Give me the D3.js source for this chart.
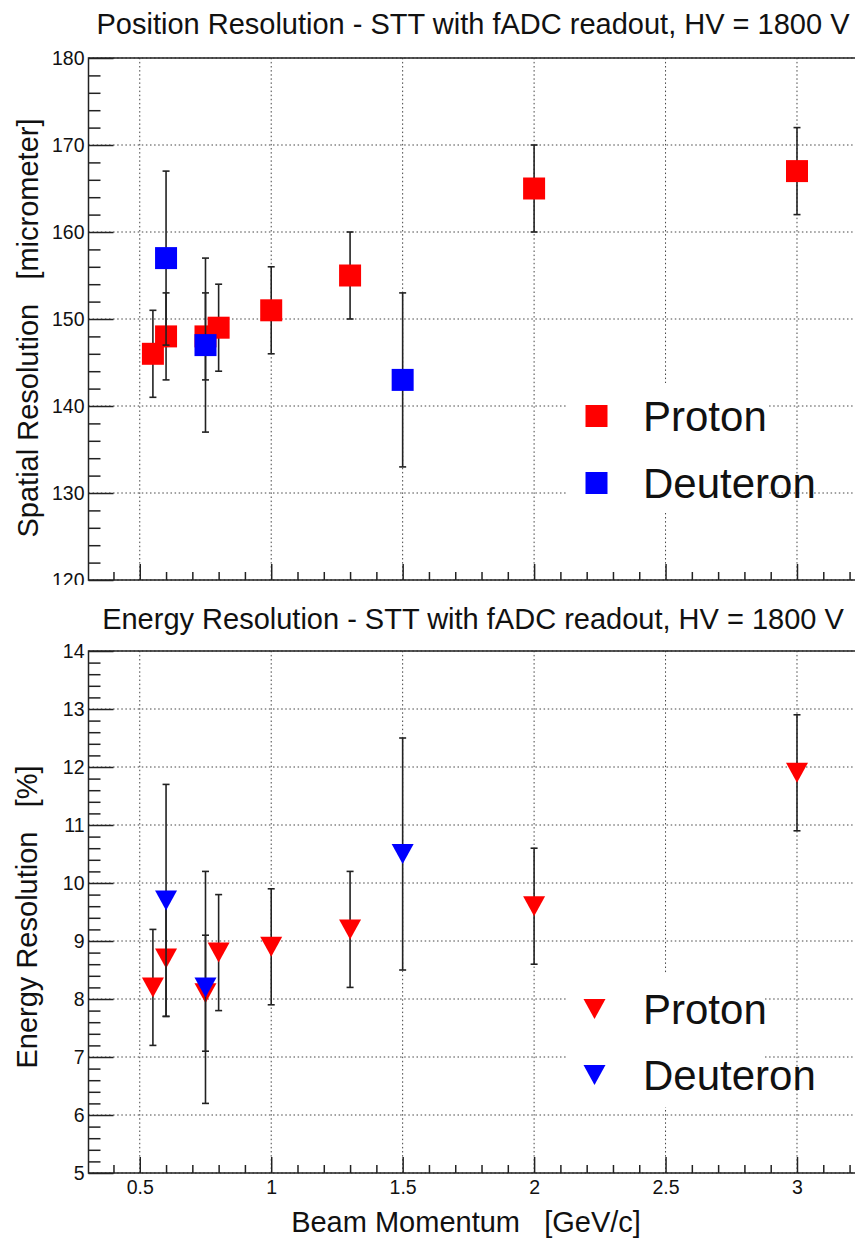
<!DOCTYPE html>
<html>
<head>
<meta charset="utf-8">
<script src="https://cdn.jsdelivr.net/npm/d3@7"></script>
<style>
  html, body { margin: 0; padding: 0; background: #fff; }
  svg { display: block; font-family: "Liberation Sans", Arial, Helvetica, sans-serif; }
  text { white-space: pre; }
</style>
</head>
<body>
<svg id="chart" width="855" height="1238"></svg>
<script>
// Beam momenta [GeV/c]
const protonMomentum   = [0.55, 0.6, 0.75, 0.8, 1.0, 1.3, 2.0, 3.0];
const deuteronMomentum = [0.6, 0.75, 1.5];

// Spatial resolution [micrometer]
const protonSpatial      = [146, 148, 148, 149, 151, 155, 165, 167];
const protonSpatialErr   = [5, 5, 5, 5, 5, 5, 5, 5];
const deuteronSpatial    = [157, 147, 143];
const deuteronSpatialErr = [10, 10, 10];

// Energy resolution [%]
const protonEnergy      = [8.2, 8.7, 8.1, 8.8, 8.9, 9.2, 9.6, 11.9];
const protonEnergyErr   = [1, 1, 1, 1, 1, 1, 1, 1];
const deuteronEnergy    = [9.7, 8.2, 10.5];
const deuteronEnergyErr = [2, 2, 2];

// Axis ticks
const xMajorTicks = [0.5, 1, 1.5, 2, 2.5, 3];
const xTickLabels = ["0.5", "1", "1.5", "2", "2.5", "3"];
const spatialTicks = [120, 130, 140, 150, 160, 170, 180];
const energyTicks  = [5, 6, 7, 8, 9, 10, 11, 12, 13, 14];

const seriesNames  = ["Proton", "Deuteron"];
const seriesColors = ["#ff0000", "#0000ff"];

const svg = d3.select("#chart");
const W = 855;

const x = d3.scaleLinear().domain([0.305, 3.245]).range([88.5, 861.4]);
const xMinor = d3.range(4, 33).map(v => v / 10).filter(v => !xMajorTicks.some(m => Math.abs(m - v) < 1e-9));

const FONT_TICK = 19.5, FONT_TITLE = 29, FONT_LEG = 42;
const INK = "#222";

function makePanel(opts) {
  const g = svg.append("g");
  if (opts.clip) {
    svg.append("clipPath").attr("id", opts.id + "-clip")
      .append("rect").attr("x", 0).attr("y", 0).attr("width", W).attr("height", opts.clip);
    g.attr("clip-path", `url(#${opts.id}-clip)`);
  }
  const y = opts.y;
  const [x0, x1] = x.range();
  const [yb, yt] = y.range();

  // title
  g.append("text").attr("x", 473).attr("y", opts.titleY)
    .attr("text-anchor", "middle").attr("font-size", FONT_TITLE).attr("fill", "#111")
    .text(opts.title);

  // grid
  const grid = g.append("g").attr("stroke", "#444").attr("stroke-width", 1)
    .attr("stroke-dasharray", "1.5,2.6").attr("fill", "none");
  xMajorTicks.forEach(v => grid.append("line")
    .attr("x1", x(v)).attr("x2", x(v)).attr("y1", yb).attr("y2", yt));
  opts.yTicks.forEach(v => grid.append("line")
    .attr("x1", x0).attr("x2", x1).attr("y1", y(v)).attr("y2", y(v)));

  // legend box (white, covers grid)
  const lg = opts.legend;
  g.append("rect").attr("x", lg.x).attr("y", lg.y).attr("width", lg.w).attr("height", lg.h)
    .attr("fill", "#fff");

  // y axis: major and minor ticks pointing inward
  const yAxis = d3.axisLeft(y).tickValues(opts.yTicks).tickSizeInner(-25).tickSizeOuter(0)
    .tickPadding(4).tickFormat(d3.format("d"));
  const ya = g.append("g").attr("transform", `translate(${x0},0)`).call(yAxis);
  ya.select(".domain").remove();
  ya.selectAll("line").attr("stroke", INK).attr("stroke-width", 1.5);
  ya.selectAll("text").attr("font-size", FONT_TICK).attr("font-family", null).attr("fill", "#111");

  const yMinorAxis = d3.axisLeft(y).tickValues(opts.yMinor).tickSizeInner(-12).tickSizeOuter(0).tickFormat("");
  const ym = g.append("g").attr("transform", `translate(${x0},0)`).call(yMinorAxis);
  ym.select(".domain").remove();
  ym.selectAll("line").attr("stroke", INK).attr("stroke-width", 1.5);

  // x axis
  const xAxis = d3.axisBottom(x).tickValues(xMajorTicks).tickSizeInner(-16).tickSizeOuter(0)
    .tickPadding(7).tickFormat((d, i) => opts.xLabels ? xTickLabels[i] : "");
  const xa = g.append("g").attr("transform", `translate(0,${yb})`).call(xAxis);
  xa.select(".domain").remove();
  xa.selectAll("line").attr("stroke", INK).attr("stroke-width", 1.5);
  xa.selectAll("text").attr("font-size", FONT_TICK).attr("font-family", null).attr("fill", "#111");

  const xMinorAxis = d3.axisBottom(x).tickValues(xMinor).tickSizeInner(-8).tickSizeOuter(0).tickFormat("");
  const xm = g.append("g").attr("transform", `translate(0,${yb})`).call(xMinorAxis);
  xm.select(".domain").remove();
  xm.selectAll("line").attr("stroke", INK).attr("stroke-width", 1.5);

  // frame
  g.append("rect").attr("x", x0).attr("y", yt).attr("width", x1 - x0).attr("height", yb - yt)
    .attr("fill", "none").attr("stroke", INK).attr("stroke-width", 1.5);

  // y axis title
  g.append("text")
    .attr("transform", `translate(${opts.yTitleX},${opts.yTitleY}) rotate(-90)`)
    .attr("text-anchor", "middle").attr("font-size", FONT_TITLE).attr("fill", "#111")
    .text(opts.yTitle);

  // data: error bars first, markers on top, one series after the other
  const series = [
    { xs: protonMomentum,   ys: opts.proton,   es: opts.protonErr,   color: seriesColors[0] },
    { xs: deuteronMomentum, ys: opts.deuteron, es: opts.deuteronErr, color: seriesColors[1] }
  ];
  series.forEach(s => {
    const pts = s.xs.map((p, i) => ({ p, v: s.ys[i], e: s.es[i] }));
    const eb = g.append("g").attr("stroke", INK).attr("stroke-width", 1.6);
    pts.forEach(d => {
      const cx = x(d.p), lo = y(d.v - d.e), hi = y(d.v + d.e);
      eb.append("line").attr("x1", cx).attr("x2", cx).attr("y1", lo).attr("y2", hi);
      eb.append("line").attr("x1", cx - 3.5).attr("x2", cx + 3.5).attr("y1", lo).attr("y2", lo);
      eb.append("line").attr("x1", cx - 3.5).attr("x2", cx + 3.5).attr("y1", hi).attr("y2", hi);
    });
    g.append("g").selectAll("path").data(pts).join("path")
      .attr("d", d => opts.marker(x(d.p), y(d.v)))
      .attr("fill", s.color);
  });

  // legend entries
  seriesNames.forEach((name, i) => {
    const cy = lg.rows[i];
    g.append("path").attr("d", opts.marker(lg.mx, cy)).attr("fill", seriesColors[i]);
    g.append("text").attr("x", lg.tx).attr("y", cy + FONT_LEG * 0.36)
      .attr("font-size", FONT_LEG).attr("fill", "#111").text(name);
  });
}

function square(cx, cy) {
  const h = 11;
  return `M${cx - h},${cy - h}H${cx + h}V${cy + h}H${cx - h}Z`;
}
function downTriangle(cx, cy) {
  const hw = 11, hh = 10;
  return `M${cx - hw},${cy - hh}L${cx + hw},${cy - hh}L${cx},${cy + hh}Z`;
}

const ySpatial = d3.scaleLinear().domain([120, 180]).range([580, 58]);
const yEnergy  = d3.scaleLinear().domain([5, 14]).range([1173, 651]);

makePanel({
  id: "pos", clip: 585,
  title: "Position Resolution - STT with fADC readout, HV = 1800 V", titleY: 34,
  y: ySpatial, yTicks: spatialTicks,
  yMinor: d3.range(120, 181, 2).filter(v => v % 10 !== 0),
  yTitle: "Spatial Resolution   [micrometer]", yTitleX: 38, yTitleY: 328,
  proton: protonSpatial, protonErr: protonSpatialErr,
  deuteron: deuteronSpatial, deuteronErr: deuteronSpatialErr,
  marker: square, xLabels: false,
  legend: { x: 567, y: 383, w: 200, h: 130, mx: 596.5, tx: 643, rows: [416, 483] }
});

makePanel({
  id: "en",
  title: "Energy Resolution - STT with fADC readout, HV = 1800 V", titleY: 629,
  y: yEnergy, yTicks: energyTicks,
  yMinor: d3.range(50, 141, 2).filter(v => v % 10 !== 0).map(v => v / 10),
  yTitle: "Energy Resolution   [%]", yTitleX: 36.5, yTitleY: 917,
  proton: protonEnergy, protonErr: protonEnergyErr,
  deuteron: deuteronEnergy, deuteronErr: deuteronEnergyErr,
  marker: downTriangle, xLabels: true,
  legend: { x: 567, y: 974, w: 198, h: 133, mx: 594.5, tx: 643, rows: [1009, 1075] }
});

// x axis title
svg.append("text").attr("x", 466).attr("y", 1232)
  .attr("text-anchor", "middle").attr("font-size", FONT_TITLE).attr("fill", "#111")
  .text("Beam Momentum   [GeV/c]");
</script>
</body>
</html>
